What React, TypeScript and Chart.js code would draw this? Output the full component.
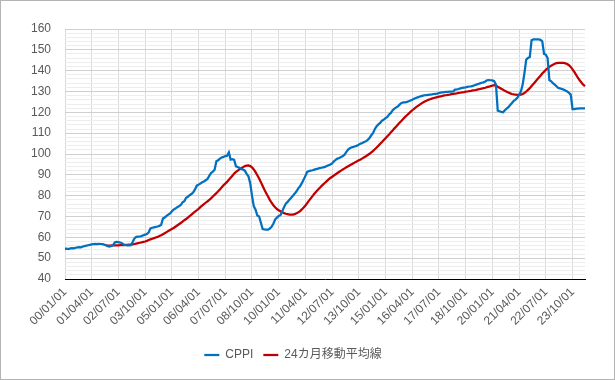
import React, { useEffect, useRef } from "react";
import { Chart, registerables } from "chart.js";

Chart.register(...registerables);

// Monthly categories 2000/01 .. 2024/05
const START_YEAR = 2000;
const MONTH_COUNT = 293;
const LABEL_EVERY = 15;

const CPPI: number[] = [
  // 2000
  54.5, 54.6, 54.4, 54.7, 54.8, 54.7, 55.0, 55.2, 55.3, 55.2, 55.6, 55.8,
  // 2001
  56.0, 56.2, 56.4, 56.6, 56.7, 56.8, 56.7, 56.9, 56.8, 56.7, 56.5, 56.2,
  // 2002
  55.8, 55.6, 55.9, 56.3, 57.6, 57.8, 57.7, 57.5, 57.2, 56.5, 56.2, 56.1,
  // 2003
  56.1, 56.2, 57.8, 59.5, 60.2, 60.3, 60.4, 60.6, 61.0, 61.3, 61.6, 62.4,
  // 2004
  64.3, 64.6, 64.8, 65.0, 65.2, 65.5, 66.0, 69.0, 69.5, 70.3, 70.9, 71.5,
  // 2005
  72.5, 73.3, 73.8, 74.5, 74.9, 75.5, 76.8, 77.3, 79.0, 79.5, 80.2, 80.8,
  // 2006
  81.6, 83.0, 84.8, 85.3, 85.8, 86.4, 86.8, 87.4, 88.0, 89.5, 90.9, 91.5,
  // 2007
  92.5, 96.5, 97.0, 97.8, 98.3, 98.6, 99.0, 99.2, 100.8, 97.3, 97.5, 97.2,
  // 2008
  94.1, 93.8, 93.3, 92.8, 92.5, 92.0, 90.5, 89.3, 86.0, 80.0, 75.0, 73.3,
  // 2009
  70.5, 70.0, 67.0, 64.0, 63.8, 63.7, 63.7, 64.2, 65.0, 66.5, 68.5, 69.5,
  // 2010
  70.2, 70.6, 72.5, 74.5, 76.2, 77.0, 78.1, 79.0, 80.0, 81.0, 82.1, 83.5,
  // 2011
  84.5, 86.0, 87.7, 89.5, 91.4, 91.8, 92.0, 92.2, 92.5, 92.7, 93.0, 93.2,
  // 2012
  93.4, 93.6, 93.8, 94.2, 94.6, 95.0, 95.5, 96.5, 97.2, 97.8, 98.1, 98.5,
  // 2013
  99.0, 99.7, 101.0, 102.1, 102.8, 103.2, 103.4, 103.7, 104.0, 104.5, 105.0, 105.3,
  // 2014
  105.8, 106.1, 106.8, 107.7, 109.0, 110.1, 112.0, 113.3, 114.2, 114.9, 116.0, 116.5,
  // 2015
  117.2, 117.8, 119.0, 119.7, 121.0, 121.8, 122.4, 122.9, 123.8, 124.5, 124.8, 124.8,
  // 2016
  125.0, 125.3, 125.7, 126.0, 126.5, 126.9, 127.2, 127.5, 127.8, 128.0, 128.2, 128.3,
  // 2017
  128.4, 128.5, 128.6, 128.8, 128.9, 129.0, 129.3, 129.5, 129.6, 129.7, 129.8, 129.8,
  // 2018
  129.9, 129.9, 130.0, 130.9, 131.0, 131.2, 131.5, 131.7, 131.9, 132.0, 132.2, 132.4,
  // 2019
  132.5, 132.7, 133.0, 133.3, 133.6, 133.9, 134.2, 134.4, 134.8, 135.4, 135.5, 135.4,
  // 2020
  135.3, 135.0, 133.3, 120.8, 120.5, 120.2, 120.0, 121.0, 121.8, 122.5, 123.5, 124.5,
  // 2021
  125.5, 126.1, 127.0, 128.5, 130.0, 133.3, 138.9, 145.3, 146.1, 146.5, 154.6, 155.0,
  // 2022
  155.0, 155.0, 155.0, 154.8, 154.1, 148.0, 147.7, 146.1, 135.5, 134.9, 134.0, 133.3,
  // 2023
  132.5, 131.7, 131.5, 131.2, 130.9, 130.5, 130.0, 129.3, 128.5, 121.6, 121.6, 121.8,
  // 2024
  121.8, 121.9, 121.9, 121.9, 121.9,
];

// 24-month moving average, starts at 2001/12 (index 23)
const MA_START = 23;
const MA24: number[] = [
  // 2001/12
  56.0,
  // 2002
  56.0, 56.0, 56.0, 56.1, 56.1, 56.2, 56.2, 56.3, 56.3, 56.3, 56.4, 56.4,
  // 2003
  56.5, 56.5, 56.6, 56.8, 57.0, 57.2, 57.4, 57.6, 57.8, 58.0, 58.3, 58.7,
  // 2004
  59.0, 59.3, 59.6, 59.9, 60.2, 60.6, 61.0, 61.5, 62.0, 62.5, 63.0, 63.5,
  // 2005
  64.0, 64.5, 65.1, 65.7, 66.3, 66.9, 67.5, 68.2, 68.8, 69.5, 70.2, 70.9,
  // 2006
  71.6, 72.3, 73.0, 73.7, 74.5, 75.2, 75.9, 76.6, 77.3, 78.0, 78.7, 79.6,
  // 2007
  80.4, 81.2, 82.1, 83.0, 84.0, 85.0, 85.8, 86.6, 87.6, 88.6, 89.6, 90.6,
  // 2008
  91.4, 92.0, 92.6, 93.2, 93.7, 94.2, 94.4, 94.5, 94.2, 93.6, 92.6, 91.3,
  // 2009
  89.8, 88.2, 86.5, 84.6, 82.8, 81.2, 79.6, 78.0, 76.6, 75.4, 74.4, 73.6,
  // 2010
  73.0, 72.5, 72.0, 71.6, 71.3, 71.1, 70.9, 70.9, 70.9, 71.1, 71.5, 72.0,
  // 2011
  72.6, 73.4, 74.3, 75.3, 76.4, 77.6, 78.7, 79.8, 80.9, 81.9, 82.8, 83.7,
  // 2012
  84.6, 85.4, 86.2, 87.0, 87.8, 88.5, 89.1, 89.7, 90.3, 90.9, 91.5, 92.0,
  // 2013
  92.6, 93.1, 93.6, 94.1, 94.6, 95.1, 95.6, 96.1, 96.5, 97.0, 97.4, 97.9,
  // 2014
  98.4, 98.9, 99.5, 100.1, 100.8, 101.5, 102.3, 103.1, 104.0, 104.9, 105.8, 106.7,
  // 2015
  107.6, 108.5, 109.4, 110.4, 111.3, 112.3, 113.2, 114.2, 115.1, 116.0, 116.9, 117.8,
  // 2016
  118.6, 119.4, 120.2, 121.0, 121.7, 122.4, 123.0, 123.6, 124.2, 124.7, 125.2, 125.6,
  // 2017
  126.0, 126.3, 126.6, 126.9, 127.1, 127.3, 127.5, 127.7, 127.9, 128.1, 128.2, 128.4,
  // 2018
  128.5, 128.7, 128.8, 129.0, 129.1, 129.3, 129.4, 129.6, 129.7, 129.9, 130.0, 130.2,
  // 2019
  130.3, 130.5, 130.6, 130.8, 131.0, 131.2, 131.4, 131.6, 131.8, 132.1, 132.3, 132.6,
  // 2020
  132.8, 133.0, 132.8, 132.3, 131.8, 131.3, 130.8, 130.3, 129.9, 129.5, 129.1, 128.8,
  // 2021
  128.6, 128.5, 128.4, 128.4, 128.5, 128.8, 129.3, 130.0, 130.8, 131.6, 132.6, 133.6,
  // 2022
  134.6, 135.6, 136.6, 137.6, 138.6, 139.5, 140.4, 141.1, 141.8, 142.4, 142.9, 143.3,
  // 2023
  143.6, 143.7, 143.8, 143.8, 143.7, 143.5, 143.2, 142.6, 141.8, 140.6, 139.4, 138.0,
  // 2024
  136.6, 135.4, 134.3, 133.3, 132.5,
];

const SERIES_NAMES = ["CPPI", "24カ月移動平均線"];
const Y_MIN = 40;
const Y_MAX = 160;
const Y_MINOR_STEP = 2;
const Y_MAJOR_STEP = 10;

function pad2(n: number) {
  return (n < 10 ? "0" : "") + n;
}

const CATEGORIES: string[] = [];
for (let i = 0; i < MONTH_COUNT; i++) {
  const y = START_YEAR + Math.floor(i / 12);
  const m = (i % 12) + 1;
  CATEGORIES.push(`${pad2(y % 100)}/${pad2(m)}/01`);
}

const FONT = "'Liberation Sans', Arial, 'Noto Sans CJK JP', sans-serif";

export default function App() {
  const ref = useRef<HTMLCanvasElement | null>(null);

  useEffect(() => {
    document.body.style.margin = "0";
    const canvas = ref.current;
    if (!canvas) return;
    const maData: (number | null)[] = [];
    for (let i = 0; i < MA_START; i++) maData.push(null);
    for (const v of MA24) maData.push(v);

    const chart = new Chart(canvas, {
      type: "line",
      data: {
        labels: CATEGORIES,
        datasets: [
          {
            label: SERIES_NAMES[0],
            data: CPPI,
            borderColor: "#0070C0",
            backgroundColor: "#0070C0",
            borderWidth: 2.25,
            pointRadius: 0,
            tension: 0,
          },
          {
            label: SERIES_NAMES[1],
            data: maData,
            borderColor: "#C00000",
            backgroundColor: "#C00000",
            borderWidth: 2.25,
            pointRadius: 0,
            tension: 0,
          },
        ],
      },
      options: {
        animation: false,
        responsive: false,
        maintainAspectRatio: false,
        layout: { padding: { top: 28, right: 29, left: 0, bottom: 8 } },
        plugins: {
          tooltip: { enabled: false },
          legend: {
            position: "bottom",
            labels: {
              usePointStyle: true,
              pointStyle: "line",
              pointStyleWidth: 15,
              boxHeight: 12,
              padding: 10,
              color: "#595959",
              font: { family: FONT, size: 12 },
            },
          },
        },
        scales: {
          x: {
            type: "category",
            offset: false,
            afterFit: (s: any) => {
              s.height = 60;
            },
            grid: {
              drawTicks: false,
              color: "#d9d9d9",
              lineWidth: 1,
            },
            border: { color: "#000000", width: 1 },
            ticks: {
              autoSkip: false,
              maxRotation: 45,
              minRotation: 45,
              padding: 6,
              color: "#595959",
              font: { family: FONT, size: 12 },
              callback: (_v: any, idx: number) =>
                idx % LABEL_EVERY === 0 ? CATEGORIES[idx] : null,
            },
          },
          y: {
            min: Y_MIN,
            max: Y_MAX,
            afterFit: (s: any) => {
              s.width = 64;
            },
            grid: {
              drawTicks: false,
              color: (c: any) =>
                c.tick && Math.round(c.tick.value) % Y_MAJOR_STEP === 0 ? "#d0d0d0" : "#ededed",
              lineWidth: 1,
            },
            border: { display: false },
            ticks: {
              stepSize: Y_MINOR_STEP,
              autoSkip: false,
              padding: 14,
              color: "#595959",
              font: { family: FONT, size: 12 },
              callback: (v: any) => (Math.round(v) % Y_MAJOR_STEP === 0 ? String(v) : ""),
            },
          },
        },
      },
    });
    return () => chart.destroy();
  }, []);

  return (
    <div
      style={{
        position: "absolute",
        left: 0,
        top: 0,
        width: 615,
        height: 380,
        boxSizing: "border-box",
        border: "1px solid #b4b4b4",
        background: "#fff",
      }}
    >
      <canvas ref={ref} width={613} height={378} style={{ display: "block" }} />
    </div>
  );
}
